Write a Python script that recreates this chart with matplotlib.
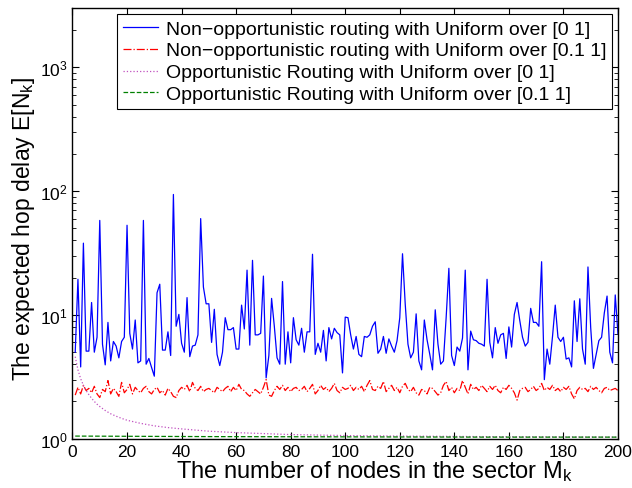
import matplotlib
matplotlib.use("Agg")
import matplotlib.pyplot as plt
from matplotlib.ticker import LogLocator, MultipleLocator

plt.rcParams["font.family"] = ["Liberation Sans", "DejaVu Sans"]
plt.rcParams["mathtext.fontset"] = "custom"
plt.rcParams["mathtext.rm"] = "Liberation Sans"
plt.rcParams["mathtext.it"] = "Liberation Sans:italic"
plt.rcParams["mathtext.default"] = "regular"

# number of nodes in the sector
nodes = list(range(1, 201))

# non-opportunistic routing, uniform over [0 1]
delay_nonopp_01 = [
    5.0, 19.4, 3.8, 38, 5.1, 5.1, 12.6, 5.0, 6.6, 58,
    5.8, 3.95, 8.7, 4.25, 6.1, 5.6, 4.5, 6.1, 6.6, 53,
    7.1, 5.3, 9.1, 4.1, 4.25, 58, 4.0, 4.45, 3.76, 3.2,
    15.1, 17.7, 5.2, 5.2, 7.3, 4.7, 94, 8.1, 10.1, 5.9,
    5.0, 13.8, 4.6, 5.6, 5.7, 6.9, 60, 16.8, 12.3, 12.3,
    6.0, 11.1, 4.8, 3.9, 5.0, 9.5, 7.6, 7.6, 7.9, 5.3,
    5.3, 12.0, 7.7, 23, 5.7, 27.6, 6.9, 6.9, 7.1, 20.6,
    3.1, 4.7, 13.6, 8.1, 4.5, 4.0, 18.6, 4.0, 7.3, 4.1,
    9.5, 6.3, 5.7, 7.8, 5.0, 7.3, 7.3, 30.9, 4.8, 5.9,
    5.0, 7.5, 4.25, 7.9, 6.4, 7.8, 7.2, 6.9, 3.4, 9.6,
    9.5, 6.9, 5.3, 6.7, 4.8, 4.6, 6.7, 6.6, 6.9, 8.1,
    8.8, 4.9, 5.3, 6.7, 4.9, 6.4, 5.6, 5.0, 6.2, 9.5,
    31.2, 12.2, 5.8, 4.5, 5.0, 10.2, 4.25, 3.6, 9.1, 6.3,
    4.8, 3.6, 11.0, 5.8, 4.0, 4.25, 9.5, 23.8, 4.7, 3.9,
    5.5, 5.1, 6.5, 23, 3.6, 7.4, 6.3, 6.2, 5.9, 5.8,
    5.6, 19.4, 6.0, 4.5, 7.9, 5.9, 6.9, 7.1, 4.45, 8.0,
    5.5, 10.1, 12.6, 9.0, 6.6, 5.6, 6.0, 11.3, 8.7, 8.7,
    8.1, 26.9, 3.0, 5.3, 4.0, 6.7, 12.0, 6.6, 6.1, 6.6,
    4.4, 4.5, 3.8, 13.0, 6.1, 13.5, 5.3, 4.0, 24.4, 7.9,
    3.7, 4.8, 6.2, 6.6, 10.4, 14.2, 5.0, 4.1, 14.5, 7.0,
]

# non-opportunistic routing, uniform over [0.1 1]
delay_nonopp_011 = [
    2.25, 2.6, 2.3, 2.7, 2.45, 2.55, 2.35, 2.65, 2.3, 2.15,
    2.5, 2.4, 2.95, 2.3, 2.55, 2.4, 2.2, 2.85, 2.35, 2.5,
    2.75, 2.3, 2.6, 2.45, 2.35, 2.55, 2.65, 2.4, 2.3, 2.5,
    2.6, 2.35, 2.45, 2.25, 2.55, 2.4, 2.2, 2.15, 2.45, 2.6,
    2.5, 2.7, 2.4, 2.85, 2.55, 2.45, 2.65, 2.4, 2.5, 2.55,
    2.45, 2.35, 2.6, 2.5, 2.4, 2.55, 2.65, 2.4, 2.6, 2.45,
    2.75, 2.5, 2.45, 2.3, 2.2, 2.35, 2.5, 2.4, 2.3, 2.6,
    3.0, 2.25, 2.2, 2.45, 2.65, 2.5, 2.7, 2.45, 2.6, 2.4,
    2.55, 2.6, 2.45, 2.5, 2.65, 2.4, 2.55, 2.75, 2.3, 2.45,
    2.7, 2.5, 2.6, 2.4, 2.55, 2.8, 2.45, 2.35, 2.6, 2.5,
    2.55, 2.7, 2.45, 2.6, 2.5, 2.65, 2.4, 2.7, 2.95, 2.5,
    2.45, 2.65, 2.55, 2.9, 2.4, 2.55, 2.7, 2.45, 2.6, 2.35,
    2.65, 2.8, 2.5, 2.4, 2.6, 2.35, 2.25, 2.5, 2.45, 2.3,
    2.6, 2.55, 2.4, 2.25, 2.35, 2.7, 2.9, 2.45, 2.6, 2.35,
    2.55, 2.45, 2.95, 2.6, 2.3, 2.75, 2.5, 2.6, 2.45, 2.7,
    2.55, 2.4, 2.65, 2.5, 2.7, 2.45, 2.35, 2.6, 2.5, 2.7,
    2.55, 2.35, 2.05, 2.45, 2.55, 2.6, 2.4, 2.5, 2.65, 2.45,
    2.55, 2.8, 2.45, 2.6, 2.5, 2.7, 2.45, 2.55, 2.4, 2.6,
    2.5, 2.65, 2.3, 2.1, 2.45, 2.6, 2.5, 2.55, 2.4, 2.65,
    2.5, 2.6, 2.45, 2.35, 2.55, 2.6, 2.45, 2.5, 2.55, 2.45,
]

# opportunistic routing, uniform over [0 1]
opp_nodes = [1, 2, 3, 4, 5, 6, 7, 8, 9, 10, 12, 14, 16, 18, 20, 25, 30, 35,
             40, 50, 60, 70, 80, 100, 120, 150, 200]
delay_opp_01 = [4.6, 3.6, 3.05, 2.7, 2.45, 2.27, 2.12, 2.0, 1.9, 1.82, 1.69,
                1.59, 1.52, 1.46, 1.41, 1.33, 1.27, 1.23, 1.20, 1.15, 1.12,
                1.10, 1.08, 1.06, 1.05, 1.04, 1.03]

# opportunistic routing, uniform over [0.1 1]
opp_nodes_011 = [1, 50, 100, 150, 200]
delay_opp_011 = [1.05, 1.04, 1.035, 1.03, 1.03]

legend_labels = [
    "Non\u2212opportunistic routing with Uniform over [0 1]",
    "Non\u2212opportunistic routing with Uniform over [0.1 1]",
    "Opportunistic Routing with Uniform over [0 1]",
    "Opportunistic Routing with Uniform over [0.1 1]",
]

fig = plt.figure(figsize=(6.32, 4.89), dpi=100)
ax = fig.add_axes([0.1147, 0.1008, 0.8631, 0.8802])

ax.plot(nodes, delay_nonopp_01, "-", color="blue", lw=0.9, label=legend_labels[0])
ax.plot(nodes, delay_nonopp_011, "-.", color="red", lw=0.9, label=legend_labels[1])
ax.plot(opp_nodes, delay_opp_01, ":", color="#c050c0", lw=0.9, label=legend_labels[2])
ax.plot(opp_nodes_011, delay_opp_011, "--", color="green", lw=0.9, label=legend_labels[3])

ax.set_yscale("log")
ax.set_xlim(0, 200)
ax.set_ylim(1, 3000)
ax.xaxis.set_major_locator(MultipleLocator(20))
ax.yaxis.set_major_locator(LogLocator(base=10))
ax.yaxis.set_minor_locator(LogLocator(base=10, subs=range(2, 10)))

ax.tick_params(which="both", direction="in", top=True, right=True, labelsize=12.5)
ax.tick_params(which="major", length=5)
ax.tick_params(which="minor", length=3)
for side in ax.spines.values():
    side.set_linewidth(1.0)

ax.set_xlabel("The number of nodes in the sector M$_{\\mathregular{k}}$", fontsize=17, labelpad=0)
ax.set_ylabel("The expected hop delay E[N$_{\\mathregular{k}}$]", fontsize=16.5, labelpad=0)
ax.xaxis.set_label_coords(0.553, -0.045, transform=ax.transAxes)
ax.xaxis.label.set_verticalalignment("top")
ax.yaxis.label.set_verticalalignment("center")
ax.yaxis.set_label_coords(-0.09, 0.49, transform=ax.transAxes)

leg = ax.legend(loc="upper right", fontsize=14.0, fancybox=False, framealpha=1,
                edgecolor="black", borderaxespad=0.3, handlelength=1.8,
                labelspacing=0.22, borderpad=0.3, handletextpad=0.4)
leg.get_frame().set_linewidth(0.8)

fig.savefig("out.png", dpi=100)
